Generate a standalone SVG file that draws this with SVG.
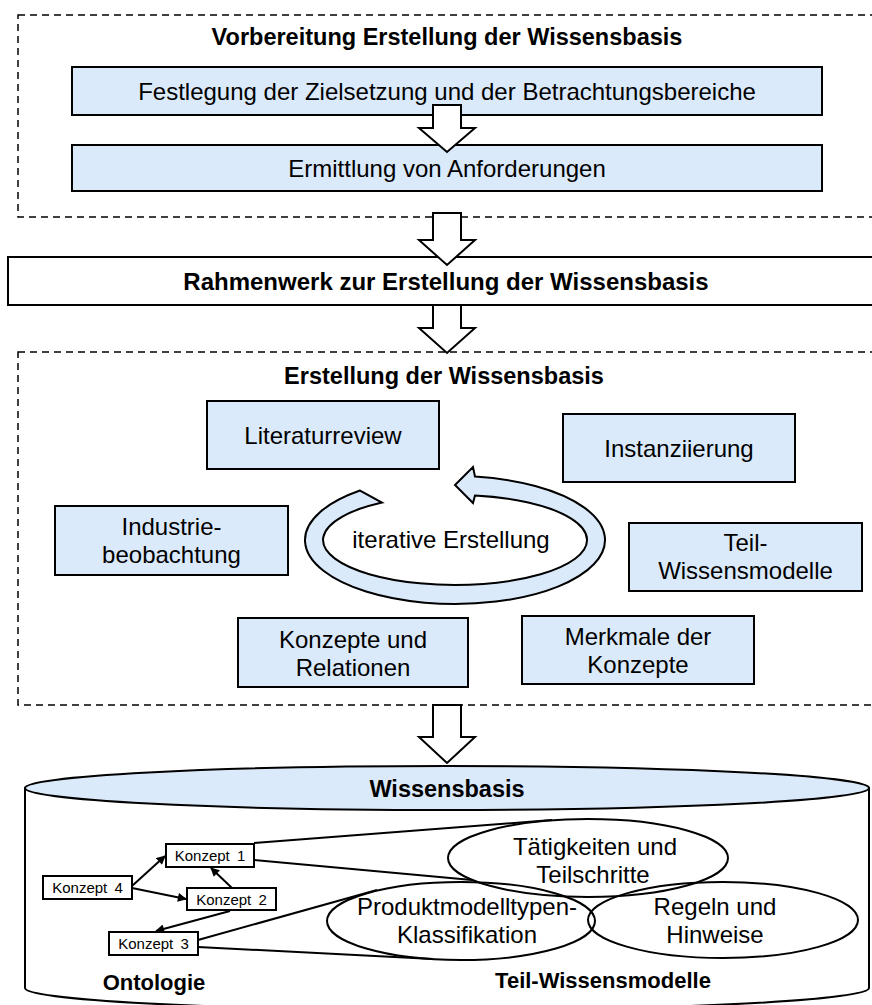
<svg xmlns="http://www.w3.org/2000/svg" width="872" height="1005" viewBox="0 0 872 1005">
  <style>
    .t { font-family: "Liberation Sans", Arial, sans-serif; fill: #000; text-anchor: middle; }
    .b { font-weight: bold; }
    .n24 { font-size: 24px; }
    .k { font-size: 15px; word-spacing: 3px; }
    .dash { fill: none; stroke: #000; stroke-width: 1.5; stroke-dasharray: 7 5; }
    .box { fill: #dbeafa; stroke: #000; stroke-width: 2; }
    .plain { fill: #fff; stroke: #000; stroke-width: 2; }
    .blk { fill: #fff; stroke: #000; stroke-width: 2; stroke-linejoin: miter; }
    .kbox { fill: #fff; stroke: #000; stroke-width: 2; }
    .ell { fill: none; stroke: #000; stroke-width: 2; }
    .ln { fill: none; stroke: #000; stroke-width: 2; }
    .arr { fill: none; stroke: #000; stroke-width: 2; marker-end: url(#head); }
  </style>
  <defs>
    <marker id="head" viewBox="0 0 10 10" refX="9" refY="5" markerWidth="10" markerHeight="9" markerUnits="userSpaceOnUse" orient="auto">
      <path d="M0,0 L10,5 L0,10 Z" fill="#000"/>
    </marker>
  </defs>

  <rect width="872" height="1005" fill="#fff"/>

  <!-- Preparation stage -->
  <g id="vorbereitung">
    <rect class="dash" x="18" y="15" width="880" height="202"/>
    <text class="t b" x="447" y="45" font-size="23.5">Vorbereitung Erstellung der Wissensbasis</text>
  </g>
  <g id="festlegung">
    <rect class="box" x="72" y="67" width="750" height="48"/>
    <text class="t n24" x="447" y="100">Festlegung der Zielsetzung und der Betrachtungsbereiche</text>
  </g>
  <g id="ermittlung">
    <rect class="box" x="72" y="145" width="750" height="46"/>
    <text class="t n24" x="447" y="177">Ermittlung von Anforderungen</text>
  </g>

  <!-- Framework -->
  <g id="rahmenwerk">
    <rect class="plain" x="8" y="257" width="890" height="48"/>
    <text class="t b" x="446" y="290" font-size="24">Rahmenwerk zur Erstellung der Wissensbasis</text>
  </g>

  <!-- Creation stage -->
  <g id="erstellung">
    <rect class="dash" x="18" y="352" width="880" height="353"/>
    <text class="t b" x="444" y="384" font-size="23.5">Erstellung der Wissensbasis</text>
  </g>
  <g id="literaturreview">
    <rect class="box" x="207" y="401" width="232" height="68"/>
    <text class="t n24" x="323" y="444">Literaturreview</text>
  </g>
  <g id="instanziierung">
    <rect class="box" x="563" y="414" width="232" height="68"/>
    <text class="t n24" x="679" y="457">Instanziierung</text>
  </g>
  <g id="industriebeobachtung">
    <rect class="box" x="55" y="506" width="233" height="69"/>
    <text class="t n24" x="171.5" y="535">Industrie-</text>
    <text class="t n24" x="171.5" y="563">beobachtung</text>
  </g>
  <g id="teilwissensmodelle">
    <rect class="box" x="629" y="523" width="233" height="68"/>
    <text class="t n24" x="745.5" y="551">Teil-</text>
    <text class="t n24" x="745.5" y="579">Wissensmodelle</text>
  </g>
  <g id="konzepte-relationen">
    <rect class="box" x="238" y="618" width="230" height="69"/>
    <text class="t n24" x="353" y="648">Konzepte und</text>
    <text class="t n24" x="353" y="676">Relationen</text>
  </g>
  <g id="merkmale">
    <rect class="box" x="522" y="616" width="232" height="68"/>
    <text class="t n24" x="638" y="645">Merkmale der</text>
    <text class="t n24" x="638" y="673">Konzepte</text>
  </g>
  <g id="zyklus">
    <path class="box" d="M360,490.5 A150 64 0 1 0 475,476.6 L473,467 L455,485 L473,503 L475,495.5 A132 45 0 1 1 382,502.5 Z"/>
    <text class="t n24" x="451" y="548">iterative Erstellung</text>
  </g>

  <!-- Knowledge base -->
  <g id="wissensbasis">
    <path class="plain" d="M25,788 L25,988 A422 22 0 0 0 869,988 L869,788 Z"/>
    <ellipse class="box" cx="447" cy="788" rx="422" ry="22"/>
    <text class="t b" x="447" y="797" font-size="23.5">Wissensbasis</text>
    <text class="t b" x="154" y="990" font-size="22">Ontologie</text>
    <text class="t b" x="603" y="988" font-size="22">Teil-Wissensmodelle</text>
  </g>
  <g id="taetigkeiten">
    <ellipse class="ell" cx="588" cy="858" rx="140" ry="39"/>
    <text class="t n24" x="595" y="855">Tätigkeiten und</text>
    <text class="t n24" x="593" y="883">Teilschritte</text>
  </g>
  <g id="produktmodelltypen">
    <ellipse class="ell" cx="461" cy="921" rx="134" ry="39"/>
    <text class="t n24" x="467" y="915">Produktmodelltypen-</text>
    <text class="t n24" x="467" y="943">Klassifikation</text>
  </g>
  <g id="regeln">
    <ellipse class="ell" cx="723" cy="920" rx="135" ry="38"/>
    <text class="t n24" x="715" y="915">Regeln und</text>
    <text class="t n24" x="715" y="943">Hinweise</text>
  </g>
  <g id="konzept1">
    <rect class="kbox" x="166" y="844" width="88" height="23"/>
    <text class="t k" x="210" y="861">Konzept 1</text>
  </g>
  <g id="konzept4">
    <rect class="kbox" x="43" y="876" width="89" height="23"/>
    <text class="t k" x="87.5" y="893">Konzept 4</text>
  </g>
  <g id="konzept2">
    <rect class="kbox" x="187" y="888" width="89" height="22"/>
    <text class="t k" x="231.5" y="905">Konzept 2</text>
  </g>
  <g id="konzept3">
    <rect class="kbox" x="109" y="932" width="89" height="23"/>
    <text class="t k" x="153.5" y="949">Konzept 3</text>
  </g>

  <!-- Connectors -->
  <g id="connectors">
    <path class="blk" d="M433,105 L461,105 L461,128 L475,128 L447,152 L419,128 L433,128 Z"/>
    <path class="blk" d="M433,213 L461,213 L461,240 L475,240 L447,265 L419,240 L433,240 Z"/>
    <path class="blk" d="M433,305 L461,305 L461,328 L475,328 L447,353 L419,328 L433,328 Z"/>
    <path class="blk" d="M433,705 L461,705 L461,737 L475,737 L447,763 L419,737 L433,737 Z"/>

    <line class="arr" x1="132" y1="886" x2="165" y2="856"/>
    <line class="arr" x1="132" y1="888" x2="186" y2="899"/>
    <line class="arr" x1="232" y1="888" x2="211" y2="868"/>
    <line class="arr" x1="230" y1="911" x2="156" y2="931"/>

    <line class="ln" x1="254" y1="843" x2="552" y2="820"/>
    <line class="ln" x1="254" y1="860" x2="472" y2="880"/>
    <line class="ln" x1="198" y1="940" x2="377" y2="890"/>
    <line class="ln" x1="198" y1="947" x2="433" y2="959"/>
  </g>
</svg>
